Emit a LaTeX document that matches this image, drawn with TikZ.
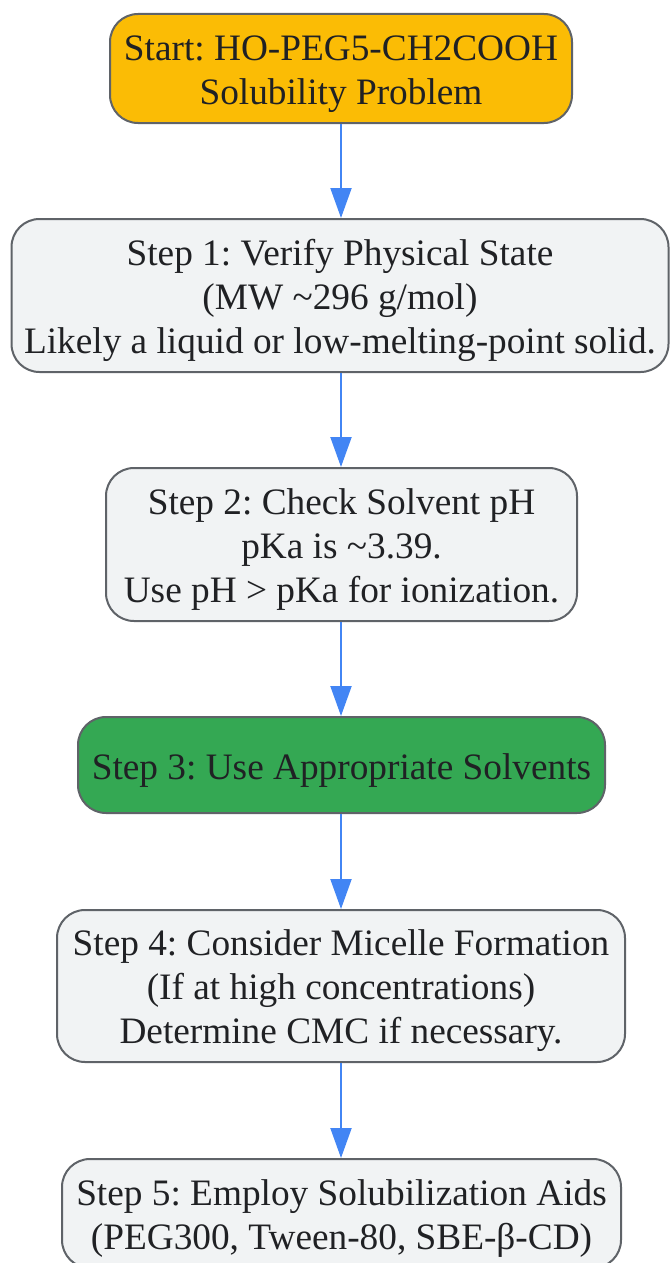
\documentclass[tikz,border=0pt]{standalone}
\usepackage{fontspec}
\setmainfont{Liberation Serif}
\usepackage{tikz}
\usetikzlibrary{arrows.meta}
\definecolor{startorange}{HTML}{FBBC05}
\definecolor{stepgray}{HTML}{F1F3F4}
\definecolor{solvgreen}{HTML}{34A853}
\definecolor{edgegray}{HTML}{5F6368}
\definecolor{arrowblue}{HTML}{4285F4}
\definecolor{textdark}{HTML}{202124}
\frenchspacing
\newcommand{\boxstrut}{\rule{0pt}{36pt}}

\tikzset{
  stepbox/.style={draw=edgegray, line width=2pt, fill=stepgray, rounded corners=28pt,
    align=center, text=textdark, inner sep=0pt,
    font={\fontsize{37.3}{44}\selectfont}},
  startbox/.style={stepbox, fill=startorange},
  solventbox/.style={stepbox, fill=solvgreen},
  flowarrow/.style={draw=arrowblue, line width=2pt, -{Triangle[length=30pt,width=21pt]}}
}

\begin{document}
\begin{tikzpicture}[x=1pt,y=-1pt]
  \useasboundingbox (0,0) rectangle (669,1263);

  % Drawing the boxes
  \node [startbox, minimum width=462pt, minimum height=109pt] (start) at (341,68.5)
    {\boxstrut Start: HO-PEG5-CH2COOH\\Solubility Problem};
  \node [stepbox, minimum width=657pt, minimum height=153pt] (physstate) at (340,295.5)
    {\boxstrut Step 1: Verify Physical State\\(MW \textasciitilde296 g/mol)\\Likely a liquid or low-melting-point solid.};
  \node [stepbox, minimum width=471pt, minimum height=153pt] (solvph) at (341.5,544.5)
    {\boxstrut Step 2: Check Solvent pH\\pKa is \textasciitilde3.39.\\Use pH > pKa for ionization.};
  \node [solventbox, minimum width=527pt, minimum height=96pt] (solvents) at (341.5,765)
    {\boxstrut Step 3: Use Appropriate Solvents};
  \node [stepbox, minimum width=568pt, minimum height=152pt] (micelle) at (341,986)
    {\boxstrut Step 4: Consider Micelle Formation\\(If at high concentrations)\\Determine CMC if necessary.};
  \node [stepbox, minimum width=559pt, minimum height=109pt] (aids) at (341.5,1213.5)
    {\boxstrut Step 5: Employ Solubilization Aids\\(PEG300, Tween-80, SBE-β-CD)};

  % Drawing the arrows
  \draw [flowarrow] (start.south) -- (start.south |- physstate.north);
  \draw [flowarrow] (start.south |- physstate.south) -- (start.south |- solvph.north);
  \draw [flowarrow] (start.south |- solvph.south) -- (start.south |- solvents.north);
  \draw [flowarrow] (start.south |- solvents.south) -- (start.south |- micelle.north);
  \draw [flowarrow] (start.south |- micelle.south) -- (start.south |- aids.north);
\end{tikzpicture}
\end{document}
